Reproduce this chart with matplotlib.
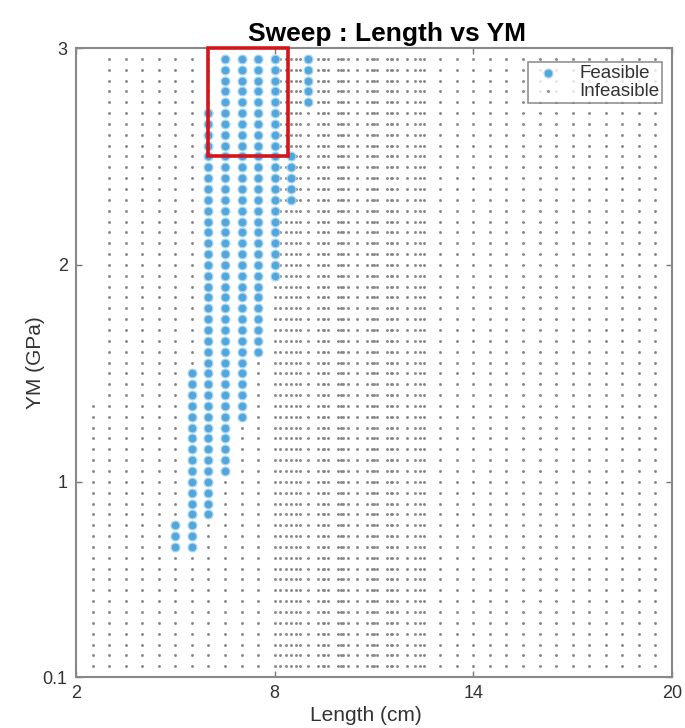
import matplotlib
matplotlib.use("Agg")
import matplotlib.pyplot as plt
from matplotlib.patches import Rectangle

plt.rcParams['font.family'] = ['Liberation Sans', 'DejaVu Sans']

# ---- data -------------------------------------------------------------
YM_GPA = [0.15, 0.20, 0.25, 0.30, 0.35, 0.40, 0.45, 0.50, 0.55, 0.60,
          0.65, 0.70, 0.75, 0.80, 0.85, 0.90, 0.95, 1.00, 1.05, 1.10,
          1.15, 1.20, 1.25, 1.30, 1.35, 1.40, 1.45, 1.50, 1.55, 1.60,
          1.65, 1.70, 1.75, 1.80, 1.85, 1.90, 1.95, 2.00, 2.05, 2.10,
          2.15, 2.20, 2.25, 2.30, 2.35, 2.40, 2.45, 2.50, 2.55, 2.60,
          2.65, 2.70, 2.75, 2.80, 2.85, 2.90, 2.95]

LENGTH_COARSE_CM = [2.5, 3.0, 3.5, 4.0, 4.5, 5.0, 5.5, 6.0, 6.5, 7.0, 7.5,
                    8.0, 8.5, 9.0, 9.5, 10.0, 10.5, 11.0, 11.5, 12.0, 12.5,
                    13.0, 13.5, 14.0, 14.5, 15.0, 15.5, 16.0, 16.5, 17.0,
                    17.5, 18.0, 18.5, 19.0, 19.5]
LENGTH_FINE_CM = [8.15, 8.35, 8.65, 8.75, 9.3, 9.45, 9.6, 9.9, 10.05, 10.2,
                  10.8, 10.95, 11.1, 11.4, 11.55, 11.7, 12.25, 12.4]

# the first column was only swept up to this modulus
SHORT_COLUMN_CM = 2.5
SHORT_COLUMN_MAX_YM = 1.35

# feasible band for each length column (inclusive)
FEAS_LENGTH_CM = [5.0, 5.5, 6.0, 6.5, 7.0, 7.5, 8.0, 8.5, 9.0]
FEAS_YM_MIN = [0.70, 0.70, 0.85, 1.05, 1.30, 1.60, 1.95, 2.30, 2.75]
FEAS_YM_MAX = [0.80, 1.50, 2.70, 2.95, 2.95, 2.95, 2.95, 2.50, 2.95]

# selected design region
SEL_LENGTH = (6.0, 8.4)
SEL_YM = (2.5, 3.0)

X_TICKS = [2, 8, 14, 20]
Y_TICKS = [0.1, 1, 2, 3]
Y_TICKLABELS = ['0.1', '1', '2', '3']

# ---- build point sets ---------------------------------------------------
feas_lookup = {L: (lo, hi) for L, lo, hi in zip(FEAS_LENGTH_CM, FEAS_YM_MIN, FEAS_YM_MAX)}
fx, fy, ix, iy = [], [], [], []
for L in sorted(LENGTH_COARSE_CM + LENGTH_FINE_CM):
    for y in YM_GPA:
        if L == SHORT_COLUMN_CM and y > SHORT_COLUMN_MAX_YM + 1e-9:
            continue
        band = feas_lookup.get(L)
        if band is not None and band[0] - 1e-9 <= y <= band[1] + 1e-9:
            fx.append(L); fy.append(y)
        else:
            ix.append(L); iy.append(y)

# ---- figure -------------------------------------------------------------
fig = plt.figure(figsize=(6.85, 7.28), dpi=100)
ax = fig.add_axes([0.111, 0.070, 0.870, 0.864])

ax.scatter(fx, fy, s=40, color='#52a6dc', edgecolors='#a8d6f2', linewidths=0.9,
           label='Feasible', zorder=3)
ax.scatter(ix, iy, s=4.5, color='#8a8a8a', linewidths=0, label='Infeasible', zorder=2)

ax.add_patch(Rectangle((SEL_LENGTH[0], SEL_YM[0]), SEL_LENGTH[1] - SEL_LENGTH[0],
                       SEL_YM[1] - SEL_YM[0], fill=False, edgecolor='#d4161c',
                       linewidth=2.6, zorder=4, clip_on=False))

ax.set_xlim(2, 20)
ax.set_ylim(0.1, 3)
ax.set_xticks(X_TICKS)
ax.set_yticks(Y_TICKS)
ax.set_yticklabels(Y_TICKLABELS)
ax.tick_params(direction='in', top=True, right=True, length=4, width=1,
               color='#777777', labelsize=13, labelcolor='#333333', pad=6)
for sp in ax.spines.values():
    sp.set_color('#888888')
    sp.set_linewidth(1.5)

ax.set_title('Sweep : Length vs YM', fontsize=19, fontweight='bold', pad=5, x=0.522)
ax.set_xlabel('Length (cm)', fontsize=15, color='#333333', labelpad=2)
ax.xaxis.set_label_coords(0.487, -0.046)
ax.set_ylabel('YM (GPa)', fontsize=15, color='#333333')
ax.yaxis.set_label_coords(-0.052, 0.5)

leg = ax.legend(loc='upper right', bbox_to_anchor=(0.984, 0.978), borderaxespad=0,
                fontsize=13.5, frameon=True, fancybox=False, edgecolor='#777777',
                handletextpad=0.8, borderpad=0.15, labelspacing=0.05,
                markerscale=1.0, handlelength=1.8)
leg.get_frame().set_linewidth(1.2)
for t in leg.get_texts():
    t.set_color('#333333')

fig.savefig('out.png', dpi=100)
